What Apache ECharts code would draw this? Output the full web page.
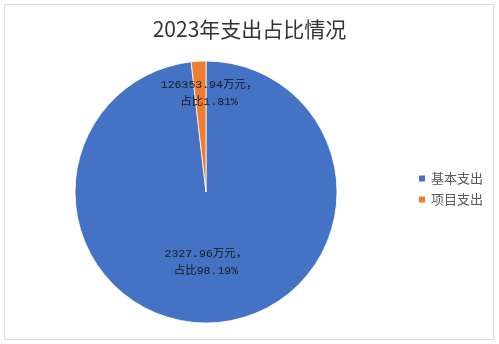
<!DOCTYPE html>
<html>
<head>
<meta charset="utf-8">
<script src="https://cdn.jsdelivr.net/npm/echarts@6/dist/echarts.min.js"></script>
<style>
  html, body { margin: 0; padding: 0; background: #fff; }
  #chart { width: 499px; height: 344px; }
</style>
</head>
<body>
<div id="chart"></div>
<script>
// Data
const categories = ['基本支出', '项目支出']
const shares = [98.19, 1.81]
const labelTexts = ['2327.96万元，\n占比98.19%', '126353.94万元，\n占比1.81%']
const colors = ['#4472C4', '#ED7D31']

const chart = echarts.init(document.getElementById('chart'))

chart.setOption({
  animation: false,
  title: {
    text: '2023年支出占比情况',
    left: 'center',
    top: 14,
    textStyle: {
      fontFamily: 'Noto Sans CJK SC',
      fontSize: 21,
      fontWeight: 'normal',
      color: '#333',
    },
  },
  legend: {
    orient: 'vertical',
    left: 412,
    top: 167,
    itemWidth: 8,
    itemHeight: 8,
    itemGap: 8,
    icon: 'rect',
    textStyle: {
      fontFamily: 'Noto Sans CJK SC',
      fontSize: 13,
      color: '#595959',
    },
    data: categories,
  },
  graphic: [{
    type: 'rect',
    shape: { x: 4.5, y: 4.5, width: 489, height: 335 },
    style: { fill: 'none', stroke: '#d9d9d9', lineWidth: 1 },
    silent: true,
  }],
  series: [{
    type: 'pie',
    center: [206, 192],
    radius: [0, 131],
    startAngle: 90,
    clockwise: true,
    itemStyle: {
      borderColor: '#fff',
      borderWidth: 0.8,
    },
    label: {
      position: 'inside',
      fontFamily: '"Liberation Mono", "Noto Sans CJK SC"',
      fontSize: 11.5,
      lineHeight: 17,
      color: '#1a1a1a',
      align: 'center',
    },
    labelLine: { show: false },
    data: categories.map((name, i) => ({
      name,
      value: shares[i],
      itemStyle: { color: colors[i] },
      label: i === 1
        ? { formatter: labelTexts[i], offset: [7, -30] }
        : { formatter: labelTexts[i], offset: [-4, 2] },
    })),
  }],
})
</script>
</body>
</html>
